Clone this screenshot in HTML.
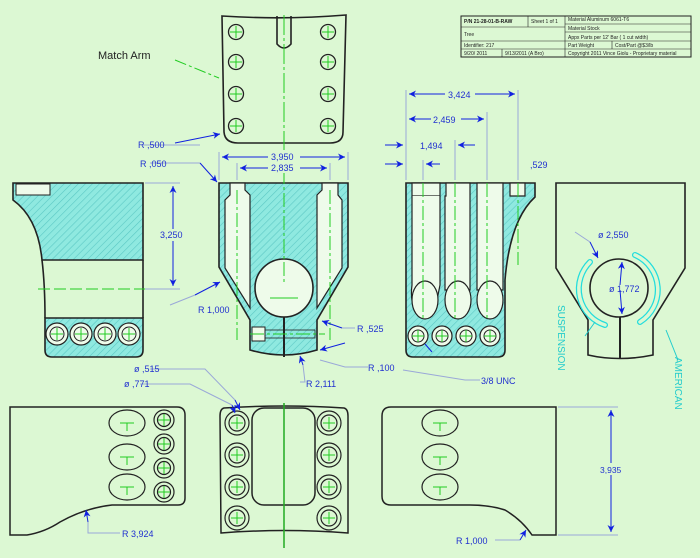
<!DOCTYPE html>
<html><head><meta charset="utf-8"><style>
html,body{margin:0;padding:0;background:#dcf8d3;}
svg{display:block;font-family:"Liberation Sans",sans-serif;}
</style></head><body>
<svg width="700" height="558" viewBox="0 0 700 558" xmlns="http://www.w3.org/2000/svg">
<defs>
<pattern id="h" width="5" height="5" patternUnits="userSpaceOnUse" patternTransform="rotate(45)">
<rect width="5" height="5" fill="#8fe9e0"/><line x1="0" y1="0" x2="0" y2="5" stroke="#5cc8c4" stroke-width="1.2"/>
</pattern>
<marker id="a" viewBox="0 0 10 10" refX="10" refY="5" markerWidth="9" markerHeight="7" orient="auto-start-reverse"><path d="M0,0 L10,5 L0,10 L3,5z" fill="#1020e0"/></marker>
</defs>
<rect width="700" height="558" fill="#dcf8d3"/>

<!-- title block -->
<g font-size="5" fill="#222" stroke="none">
<rect x="461" y="16" width="230" height="41" fill="none" stroke="#222" stroke-width="1"/>
<line x1="461" y1="27" x2="565" y2="27" stroke="#222" stroke-width=".6"/>
<line x1="461" y1="41" x2="691" y2="41" stroke="#222" stroke-width=".6"/>
<line x1="461" y1="49" x2="691" y2="49" stroke="#222" stroke-width=".6"/>
<line x1="565" y1="24" x2="691" y2="24" stroke="#222" stroke-width=".6"/>
<line x1="565" y1="32" x2="691" y2="32" stroke="#222" stroke-width=".6"/>
<line x1="528" y1="16" x2="528" y2="27" stroke="#222" stroke-width=".6"/>
<line x1="565" y1="16" x2="565" y2="57" stroke="#222" stroke-width=".6"/>
<line x1="502" y1="49" x2="502" y2="57" stroke="#222" stroke-width=".6"/>
<line x1="612" y1="41" x2="612" y2="49" stroke="#222" stroke-width=".6"/>
<text x="464" y="23" font-weight="bold">P/N 21-28-01-B-RAW</text>
<text x="531" y="23">Sheet 1 of 1</text>
<text x="568" y="21">Material Aluminum 6061-T6</text>
<text x="568" y="30">Material Stock</text>
<text x="464" y="36">Tree</text>
<text x="568" y="39">Appx Parts per 12' Bar ( 1 cut width)</text>
<text x="464" y="47">Identifier: 217</text>
<text x="568" y="47">Part Weight</text>
<text x="615" y="47">Cost/Part @$3/lb</text>
<text x="464" y="55">9/20/ 2011</text>
<text x="505" y="55">9/13/2011 (A Bro)</text>
<text x="568" y="55">Copyright  2011  Vince Giolu - Proprietary material</text>
</g>

<g fill="none" stroke="#222" stroke-width="1.6">
<path d="M222,16 Q284,20 346,15 L343,132 Q343,143 330,143 L238,143 Q225,143 224,132 Z"/>
<path d="M277,16 L277,44 Q284,52 291,44 L291,16"/>
</g>
<g stroke="#22cc22" stroke-width="1" fill="none">
<line x1="284" y1="15" x2="284" y2="150" stroke-dasharray="20,3,3,3"/>
<line x1="175" y1="60" x2="219" y2="78" stroke-dasharray="12,3,3,3"/>
</g>
<g fill="none" stroke="#222" stroke-width="1.3">
<circle cx="236" cy="32" r="7.5"/><circle cx="236" cy="62" r="7.5"/><circle cx="236" cy="94" r="7.5"/><circle cx="236" cy="126" r="7.5"/>
<circle cx="328" cy="32" r="7.5"/><circle cx="328" cy="62" r="7.5"/><circle cx="328" cy="94" r="7.5"/><circle cx="328" cy="126" r="7.5"/>
</g>
<g stroke="#22cc22" stroke-width="1">
<path d="M230,32h12M236,26v12M230,62h12M236,56v12M230,94h12M236,88v12M230,126h12M236,120v12M322,32h12M328,26v12M322,62h12M328,56v12M322,94h12M328,88v12M322,126h12M328,120v12"/>
</g>
<text x="98" y="59" font-size="11" fill="#222">Match Arm</text>

<!-- left side view -->
<path d="M13,183 L143,183 L143,260 L42,260 Q38,218 13,200 Z" fill="url(#h)" stroke="#222" stroke-width="1.6"/>
<path d="M42,260 Q45,285 45,318 M143,260 L143,318" stroke="#222" stroke-width="1.6" fill="none"/>
<path d="M45,318 L143,318 L143,350 Q143,357 136,357 L52,357 Q45,357 45,350 Z" fill="url(#h)" stroke="#222" stroke-width="1.6"/>
<rect x="16" y="184" width="34" height="11" fill="#eefbea" stroke="#222" stroke-width="1"/>
<line x1="38" y1="289" x2="170" y2="289" stroke="#22cc22" stroke-dasharray="12,4"/>
<g fill="#eefbea" stroke="#222" stroke-width="1.2">
<circle cx="57" cy="334" r="11"/><circle cx="81" cy="334" r="11"/><circle cx="105" cy="334" r="11"/><circle cx="129" cy="334" r="11"/>
</g>
<g fill="none" stroke="#222" stroke-width="1"><circle cx="57" cy="334" r="7"/><circle cx="81" cy="334" r="7"/><circle cx="105" cy="334" r="7"/><circle cx="129" cy="334" r="7"/></g>
<path d="M51,334h12M57,328v12M75,334h12M81,328v12M99,334h12M105,328v12M123,334h12M129,328v12" stroke="#22cc22"/>

<!-- front view -->
<path d="M219,183 L348,183 L348,267 L317,320 L317,350 Q284,360 250,350 L250,320 L219,267 Z" fill="url(#h)" stroke="#222" stroke-width="1.6"/>
<path d="M230,183 L230,195 L225,200 L225,268 L250,308 L250,195 L245,190 L245,183 Z" fill="#eefbea" stroke="#222" stroke-width="1.2"/>
<path d="M322,183 L322,190 L317,195 L317,308 L342,268 L342,200 L338,195 L338,183 Z" fill="#eefbea" stroke="#222" stroke-width="1.2"/>
<circle cx="284" cy="288" r="29" fill="#eefbea" stroke="#222" stroke-width="1.6"/>
<line x1="284" y1="317" x2="284" y2="357" stroke="#222" stroke-width="2"/>
<rect x="252" y="327" width="13" height="14" fill="#eefbea" stroke="#222"/>
<rect x="265" y="330" width="50" height="8" fill="none" stroke="#222" stroke-width=".8"/>
<g stroke="#22cc22" stroke-dasharray="14,3,3,3"><line x1="284" y1="170" x2="284" y2="285"/><line x1="237" y1="190" x2="237" y2="340"/><line x1="330" y1="190" x2="330" y2="340"/><line x1="250" y1="334" x2="325" y2="334"/></g>
<line x1="270" y1="298" x2="298" y2="298" stroke="#22cc22"/>

<!-- slot side view -->
<path d="M406,183 L535,183 L535,197 Q510,220 505,280 L505,350 Q505,357 498,357 L413,357 Q406,357 406,350 Z" fill="url(#h)" stroke="#222" stroke-width="1.6"/>
<g fill="#eefbea" stroke="#222" stroke-width="1.2">
<path d="M412,183 L412,196 L440,196 L440,183Z"/>
<path d="M412,196 L412,285 Q410,300 415,310 L435,310 L440,285 L440,196"/>
<path d="M446,183 L446,196 L445,196 L445,290 L470,290 L470,196 L470,183Z"/>
<path d="M477,183 L477,196 L477,290 L503,290 L503,196 L503,183Z"/>
<path d="M510,183 L510,196 L525,196 L525,183Z"/>
<ellipse cx="425" cy="300" rx="13" ry="19"/><ellipse cx="458" cy="300" rx="13" ry="19"/><ellipse cx="490" cy="300" rx="13" ry="19"/>
<circle cx="418" cy="336" r="10"/><circle cx="442" cy="336" r="10"/><circle cx="466" cy="336" r="10"/><circle cx="490" cy="336" r="10"/>
</g>
<g fill="none" stroke="#222"><circle cx="418" cy="336" r="6"/><circle cx="442" cy="336" r="6"/><circle cx="466" cy="336" r="6"/><circle cx="490" cy="336" r="6"/></g>
<g stroke="#22cc22" stroke-dasharray="14,3,3,3"><line x1="423" y1="183" x2="423" y2="320"/><line x1="455" y1="183" x2="455" y2="320"/><line x1="487" y1="183" x2="487" y2="320"/><line x1="518" y1="183" x2="518" y2="265"/></g>
<path d="M412,336h12M418,330v12M436,336h12M442,330v12M460,336h12M466,330v12M484,336h12M490,330v12" stroke="#22cc22"/>

<!-- right end view -->
<path d="M556,183 L685,183 L685,268 L653,320 L653,355 Q619,362 588,355 L588,320 L556,268 Z" fill="none" stroke="#222" stroke-width="1.6"/>
<circle cx="619" cy="288" r="29" fill="none" stroke="#222" stroke-width="1.6"/>
<line x1="620" y1="317" x2="620" y2="358" stroke="#222" stroke-width="2"/>
<path d="M590,262 A38,38 0 0 0 605,325" fill="none" stroke="#22dddd" stroke-width="6" stroke-linecap="round"/>
<path d="M590,262 A38,38 0 0 0 605,325" fill="none" stroke="#dcf8d3" stroke-width="3.5" stroke-linecap="round"/>
<path d="M635,255 A38,38 0 0 1 640,322" fill="none" stroke="#22dddd" stroke-width="6" stroke-linecap="round"/>
<path d="M635,255 A38,38 0 0 1 640,322" fill="none" stroke="#dcf8d3" stroke-width="3.5" stroke-linecap="round"/>
<text transform="translate(558,305) rotate(90)" font-size="10" fill="#22cccc">SUSPENSION</text>
<text transform="translate(675,357) rotate(90)" font-size="10" fill="#22cccc">AMERICAN</text>
<path d="M585,336 L595,322 M666,330 L678,360" stroke="#22cccc" fill="none"/>

<!-- bottom row -->
<g fill="none" stroke="#222" stroke-width="1.5">
<path d="M10,407 L177,407 Q185,407 185,415 L185,498 Q185,505 178,505 L112,505 Q85,508 60,522 Q45,532 27,535 L10,535 Z"/>
<path d="M224,408 Q284,404 344,408 Q348,409 348,416 L348,533 Q284,528 221,533 L220,416 Q220,409 224,408Z"/>
<rect x="252" y="408" width="63" height="97" rx="12"/>
<path d="M382,416 Q382,407 391,407 L556,407 L556,535 L532,535 Q522,520 505,510 Q490,505 470,505 L391,505 Q382,505 382,496 Z"/>
</g>
<g fill="none" stroke="#222" stroke-width="1.2">
<ellipse cx="127" cy="423" rx="18" ry="13"/><ellipse cx="127" cy="457" rx="18" ry="13"/><ellipse cx="127" cy="487" rx="18" ry="13"/>
<ellipse cx="440" cy="423" rx="18" ry="13"/><ellipse cx="440" cy="457" rx="18" ry="13"/><ellipse cx="440" cy="487" rx="18" ry="13"/>
<circle cx="164" cy="420" r="10"/><circle cx="164" cy="420" r="6.5"/><circle cx="164" cy="444" r="10"/><circle cx="164" cy="444" r="6.5"/>
<circle cx="164" cy="468" r="10"/><circle cx="164" cy="468" r="6.5"/><circle cx="164" cy="492" r="10"/><circle cx="164" cy="492" r="6.5"/>
<circle cx="237" cy="423" r="12"/><circle cx="237" cy="423" r="8"/><circle cx="237" cy="455" r="12"/><circle cx="237" cy="455" r="8"/>
<circle cx="237" cy="487" r="12"/><circle cx="237" cy="487" r="8"/><circle cx="237" cy="518" r="12"/><circle cx="237" cy="518" r="8"/>
<circle cx="329" cy="423" r="12"/><circle cx="329" cy="423" r="8"/><circle cx="329" cy="455" r="12"/><circle cx="329" cy="455" r="8"/>
<circle cx="329" cy="487" r="12"/><circle cx="329" cy="487" r="8"/><circle cx="329" cy="518" r="12"/><circle cx="329" cy="518" r="8"/>
</g>
<path d="M120,423h14M127,423v8M120,457h14M127,457v8M120,487h14M127,487v8M433,423h14M440,423v8M433,457h14M440,457v8M433,487h14M440,487v8M158,420h12M164,414v12M158,444h12M164,438v12M158,468h12M164,462v12M158,492h12M164,486v12M231,423h12M237,417v12M231,455h12M237,449v12M231,487h12M237,481v12M231,518h12M237,512v12M323,423h12M329,417v12M323,455h12M329,449v12M323,487h12M329,481v12M323,518h12M329,512v12" stroke="#22cc22"/>
<line x1="284" y1="403" x2="284" y2="548" stroke="#22aa22" stroke-width="1.5"/>

<!-- dimensions -->
<g stroke="#9aa8d8" stroke-width="1" fill="none">
<line x1="219" y1="152" x2="219" y2="180"/><line x1="348" y1="152" x2="348" y2="180"/>
<line x1="237" y1="163" x2="237" y2="180"/><line x1="330" y1="163" x2="330" y2="180"/>
<line x1="145" y1="183" x2="180" y2="183"/><line x1="145" y1="289" x2="180" y2="289"/>
<line x1="406" y1="90" x2="406" y2="180"/><line x1="518" y1="90" x2="518" y2="180"/><line x1="487" y1="112" x2="487" y2="180"/><line x1="455" y1="140" x2="455" y2="180"/><line x1="423" y1="160" x2="423" y2="180"/>
<line x1="558" y1="407" x2="618" y2="407"/><line x1="558" y1="535" x2="618" y2="535"/>
<path d="M143,145 L200,145 M150,163 L200,163 M170,305 L195,295 M342,328 L355,328 M320,360 L345,367 L368,367 M300,382 L305,382 L303,365 M403,370 L465,380 L480,380 M150,369 L205,369 L235,400 M140,384 L190,384 L232,405 M88,522 L88,533 L120,533 M495,540 L520,540 M575,232 L590,242"/>
</g>
<g stroke="#1020e0" stroke-width="1" fill="none">
<line x1="222" y1="157" x2="345" y2="157" marker-start="url(#a)" marker-end="url(#a)"/>
<line x1="240" y1="168" x2="327" y2="168" marker-start="url(#a)" marker-end="url(#a)"/>
<line x1="173" y1="186" x2="173" y2="286" marker-start="url(#a)" marker-end="url(#a)"/>
<line x1="409" y1="94" x2="515" y2="94" marker-start="url(#a)" marker-end="url(#a)"/>
<line x1="409" y1="119" x2="484" y2="119" marker-start="url(#a)" marker-end="url(#a)"/>
<line x1="385" y1="145" x2="403" y2="145" marker-end="url(#a)"/><line x1="475" y1="145" x2="458" y2="145" marker-end="url(#a)"/>
<line x1="385" y1="164" x2="403" y2="164" marker-end="url(#a)"/><line x1="440" y1="164" x2="426" y2="164" marker-end="url(#a)"/>
<line x1="175" y1="143" x2="220" y2="134" marker-end="url(#a)"/>
<line x1="200" y1="163" x2="217" y2="182" marker-end="url(#a)"/>
<line x1="195" y1="295" x2="220" y2="282" marker-end="url(#a)"/>
<line x1="342" y1="328" x2="322" y2="321" marker-end="url(#a)"/>
<line x1="345" y1="343" x2="320" y2="350" marker-end="url(#a)"/>
<line x1="303" y1="365" x2="300" y2="356" marker-end="url(#a)"/>
<line x1="235" y1="400" x2="240" y2="410" marker-end="url(#a)"/>
<line x1="232" y1="405" x2="235" y2="413" marker-end="url(#a)"/>
<line x1="590" y1="242" x2="598" y2="258" marker-end="url(#a)"/>
<line x1="620" y1="285" x2="622" y2="262" marker-end="url(#a)"/>
<line x1="620" y1="290" x2="622" y2="314" marker-end="url(#a)"/>
<line x1="88" y1="522" x2="86" y2="510" marker-end="url(#a)"/>
<line x1="520" y1="540" x2="526" y2="530" marker-end="url(#a)"/>
<line x1="611" y1="410" x2="611" y2="532" marker-start="url(#a)" marker-end="url(#a)"/>
<line x1="425" y1="344" x2="432" y2="352"/>
</g>
<g fill="#2030d0" font-size="9">
<rect x="268" y="150" width="32" height="11" fill="#dcf8d3"/>
<text x="271" y="160">3,950</text>
<rect x="268" y="162" width="32" height="11" fill="#dcf8d3"/>
<text x="271" y="171">2,835</text>
<rect x="158" y="229" width="30" height="12" fill="#dcf8d3"/>
<text x="160" y="238">3,250</text>
<rect x="445" y="88" width="30" height="11" fill="#dcf8d3"/>
<text x="448" y="98">3,424</text>
<rect x="431" y="113" width="30" height="11" fill="#dcf8d3"/>
<text x="433" y="123">2,459</text>
<text x="420" y="149">1,494</text>
<text x="530" y="168">,529</text>
<text x="138" y="148">R ,500</text>
<text x="140" y="167">R ,050</text>
<text x="198" y="313">R 1,000</text>
<text x="357" y="332">R ,525</text>
<text x="368" y="371">R ,100</text>
<text x="306" y="387">R 2,111</text>
<text x="481" y="384">3/8 UNC</text>
<text x="598" y="238">ø 2,550</text>
<text x="609" y="292">ø 1,772</text>
<text x="134" y="372">ø ,515</text>
<text x="124" y="387">ø ,771</text>
<text x="122" y="537">R 3,924</text>
<text x="456" y="544">R 1,000</text>
<rect x="599" y="463" width="24" height="12" fill="#dcf8d3"/>
<text x="600" y="473" font-size="8.5">3,935</text>
</g>
</svg>
</body></html>
